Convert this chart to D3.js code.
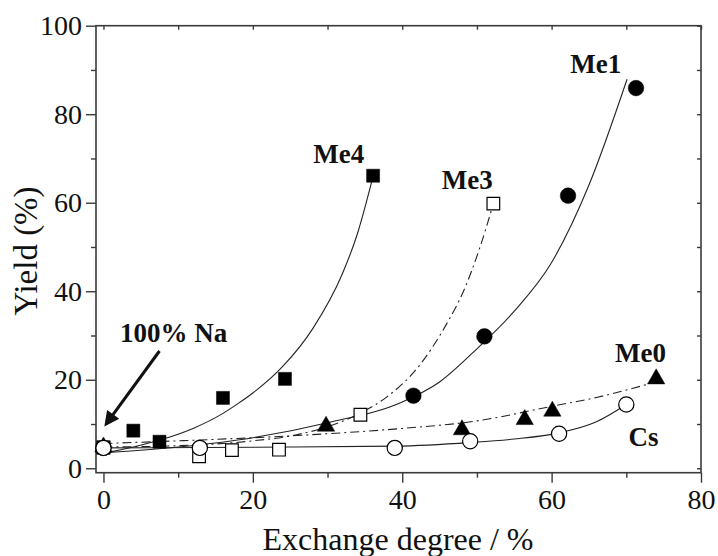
<!DOCTYPE html>
<html><head><meta charset="utf-8">
<script src="https://cdn.jsdelivr.net/npm/d3@7"></script>
<style>html,body{margin:0;padding:0;background:#fff;}svg{display:block;} svg text{font-family:"Liberation Serif","DejaVu Serif",serif;}</style>
</head><body>
<svg id="chart" width="718" height="556"></svg>
<script>
// ---- data ----
const xTicks = [0, 20, 40, 60, 80];
const xMinor = [10, 30, 50, 70];
const yTicks = [0, 20, 40, 60, 80, 100];
const yMinor = [10, 30, 50, 70, 90];

const me4X = [0, 4.0, 7.5, 16.0, 24.3, 36.1];
const me4Y = [4.7, 8.5, 6.0, 15.9, 20.2, 66.1];
const me1X = [0, 41.5, 51.0, 62.2, 71.3];
const me1Y = [4.6, 16.4, 29.8, 61.6, 85.9];
const me3X = [0, 12.8, 17.2, 23.5, 34.4, 52.2];
const me3Y = [4.7, 2.7, 4.1, 4.2, 12.1, 59.8];
const me0X = [0, 29.8, 48.0, 56.4, 60.1, 74.0];
const me0Y = [4.8, 9.5, 8.7, 11.0, 12.9, 20.2];
const csX = [0, 12.9, 39.0, 49.1, 61.0, 70.0];
const csY = [4.6, 4.6, 4.6, 6.1, 7.8, 14.4];

// fitted curves
const me4FitX = [0, 4, 8, 12, 16, 18, 20, 24, 28, 32, 34, 36.1];
const me4FitY = [3.4, 4.8, 6.6, 9.0, 12.4, 14.6, 17.0, 23.0, 31.5, 44.0, 53.0, 66.0];
const me1FitX = [0, 10, 20, 30, 40, 45, 50, 55, 60, 65, 70.1];
const me1FitY = [3.5, 4.8, 6.9, 10.3, 15.0, 19.5, 27.0, 35.5, 46.5, 64.0, 87.9];
const me3FitX = [0, 10, 20, 25, 30, 34.4, 38, 42, 46, 48.2, 50.4, 52.2];
const me3FitY = [4.8, 5.1, 6.2, 7.3, 9.4, 12.5, 16.2, 22.6, 32.8, 40.0, 49.9, 59.8];
const me0FitX = [0, 10, 20, 30, 40, 50, 60, 66, 72.7];
const me0FitY = [5.6, 6.2, 6.9, 7.8, 9.0, 10.7, 14.0, 16.0, 18.9];
const csFitX = [0, 13, 25, 39, 49, 55, 61, 66, 70];
const csFitY = [4.6, 4.7, 4.8, 5.0, 5.8, 6.6, 8.0, 10.5, 14.4];

const labels = [
  {text: "Me4", x: 28.1, y: 68.9},
  {text: "Me3", x: 45.3, y: 63.0},
  {text: "Me1", x: 62.5, y: 89.2},
  {text: "Me0", x: 68.5, y: 23.9},
  {text: "Cs", x: 70.3, y: 5.0},
  {text: "100% Na", x: 2.2, y: 28.6}
];
const arrowFrom = [7.5, 26.5];
const arrowTo = [0.35, 10.0];

// ---- drawing ----
const FONT = "'Liberation Serif','DejaVu Serif',serif";
const svg = d3.select("#chart");
const L = 96, R = 701, T = 25.7, B = 472.7;
const x = d3.scaleLinear().domain([-1, 80]).range([L, R]);
const y = d3.scaleLinear().domain([-1, 100]).range([B, T]);
const axisColor = "#3a3a3a";

// frame
svg.append("rect").attr("x", L).attr("y", T).attr("width", R - L).attr("height", B - T)
  .attr("fill", "none").attr("stroke", axisColor).attr("stroke-width", 1.6);

function styleAxis(g) {
  g.attr("font-family", FONT);
  g.select(".domain").remove();
  g.selectAll("line").attr("stroke", axisColor).attr("stroke-width", 1.4);
  g.selectAll("text").attr("fill", "#111").attr("font-size", 28).attr("font-family", FONT);
}
// bottom
svg.append("g").attr("transform", `translate(0,${B})`)
  .call(d3.axisBottom(x).tickValues(xTicks).tickSize(10).tickPadding(6).tickFormat(d3.format("d")))
  .call(styleAxis);
svg.append("g").attr("transform", `translate(0,${B})`)
  .call(d3.axisBottom(x).tickValues(xMinor).tickSize(5).tickFormat(""))
  .call(styleAxis);
// left
svg.append("g").attr("transform", `translate(${L},0)`)
  .call(d3.axisLeft(y).tickValues(yTicks).tickSize(10).tickPadding(4).tickFormat(d3.format("d")))
  .call(styleAxis);
svg.append("g").attr("transform", `translate(${L},0)`)
  .call(d3.axisLeft(y).tickValues(yMinor).tickSize(5).tickFormat(""))
  .call(styleAxis);
// top & right (inward)
svg.append("g").attr("transform", `translate(0,${T})`)
  .call(d3.axisBottom(x).tickValues(xTicks.concat(xMinor)).tickSize(4).tickFormat(""))
  .call(styleAxis);
svg.append("g").attr("transform", `translate(${R},0)`)
  .call(d3.axisLeft(y).tickValues(yTicks.concat(yMinor)).tickSize(4).tickFormat(""))
  .call(styleAxis);

// axis titles
svg.append("text").attr("x", 398).attr("y", 550).attr("text-anchor", "middle")
  .attr("font-family", FONT).attr("font-size", 32).attr("fill", "#111").text("Exchange degree / %");
svg.append("text").attr("transform", "translate(37,251) rotate(-90)").attr("text-anchor", "middle")
  .attr("font-family", FONT).attr("font-size", 33).attr("fill", "#111").text("Yield (%)");

// curves
const line = d3.line().x(d => x(d[0])).y(d => y(d[1])).curve(d3.curveMonotoneX);
const zip = (a, b) => a.map((v, i) => [v, b[i]]);
const curves = [
  {xs: me4FitX, ys: me4FitY, dash: null},
  {xs: me1FitX, ys: me1FitY, dash: null},
  {xs: me3FitX, ys: me3FitY, dash: "9,4,2,4"},
  {xs: me0FitX, ys: me0FitY, dash: "9,4,2,4"},
  {xs: csFitX, ys: csFitY, dash: null}
];
curves.forEach(c => {
  svg.append("path").attr("d", line(zip(c.xs, c.ys))).attr("fill", "none")
    .attr("stroke", "#222").attr("stroke-width", 1.1)
    .attr("stroke-dasharray", c.dash);
});

// markers
const sq = d3.symbol().type(d3.symbolSquare);
const tri = d3.symbol().type(d3.symbolTriangle);
function pts(xs, ys, shape, size, fill) {
  svg.append("g").selectAll("path").data(zip(xs, ys)).join("path")
    .attr("transform", d => `translate(${x(d[0])},${y(d[1])})`)
    .attr("d", shape.size(size)())
    .attr("fill", fill).attr("stroke", "#000").attr("stroke-width", fill === "#fff" ? 1.2 : 0.5);
}
function circles(xs, ys, r, fill) {
  svg.append("g").selectAll("circle").data(zip(xs, ys)).join("circle")
    .attr("cx", d => x(d[0])).attr("cy", d => y(d[1])).attr("r", r)
    .attr("fill", fill).attr("stroke", "#000").attr("stroke-width", fill === "#fff" ? 1.2 : 0.5);
}
pts(me3X, me3Y, sq, 160, "#fff");
pts(me4X, me4Y, sq, 170, "#000");
circles(me1X, me1Y, 7.8, "#000");
pts(me0X, me0Y, tri, 130, "#000");
circles(csX, csY, 7.6, "#fff");

// labels
labels.forEach(l => {
  svg.append("text").attr("x", x(l.x)).attr("y", y(l.y)).attr("font-family", FONT)
    .attr("font-size", 27).attr("font-weight", "bold").attr("fill", "#111").text(l.text);
});

// arrow
const defs = svg.append("defs");
defs.append("marker").attr("id", "ah").attr("viewBox", "0 0 10 10").attr("refX", 8).attr("refY", 5)
  .attr("markerWidth", 6).attr("markerHeight", 5).attr("orient", "auto")
  .append("path").attr("d", "M0,0 L10,5 L0,10 z").attr("fill", "#111");
svg.append("line").attr("x1", x(arrowFrom[0])).attr("y1", y(arrowFrom[1]))
  .attr("x2", x(arrowTo[0])).attr("y2", y(arrowTo[1]))
  .attr("stroke", "#111").attr("stroke-width", 3).attr("marker-end", "url(#ah)");
</script>
</body></html>
